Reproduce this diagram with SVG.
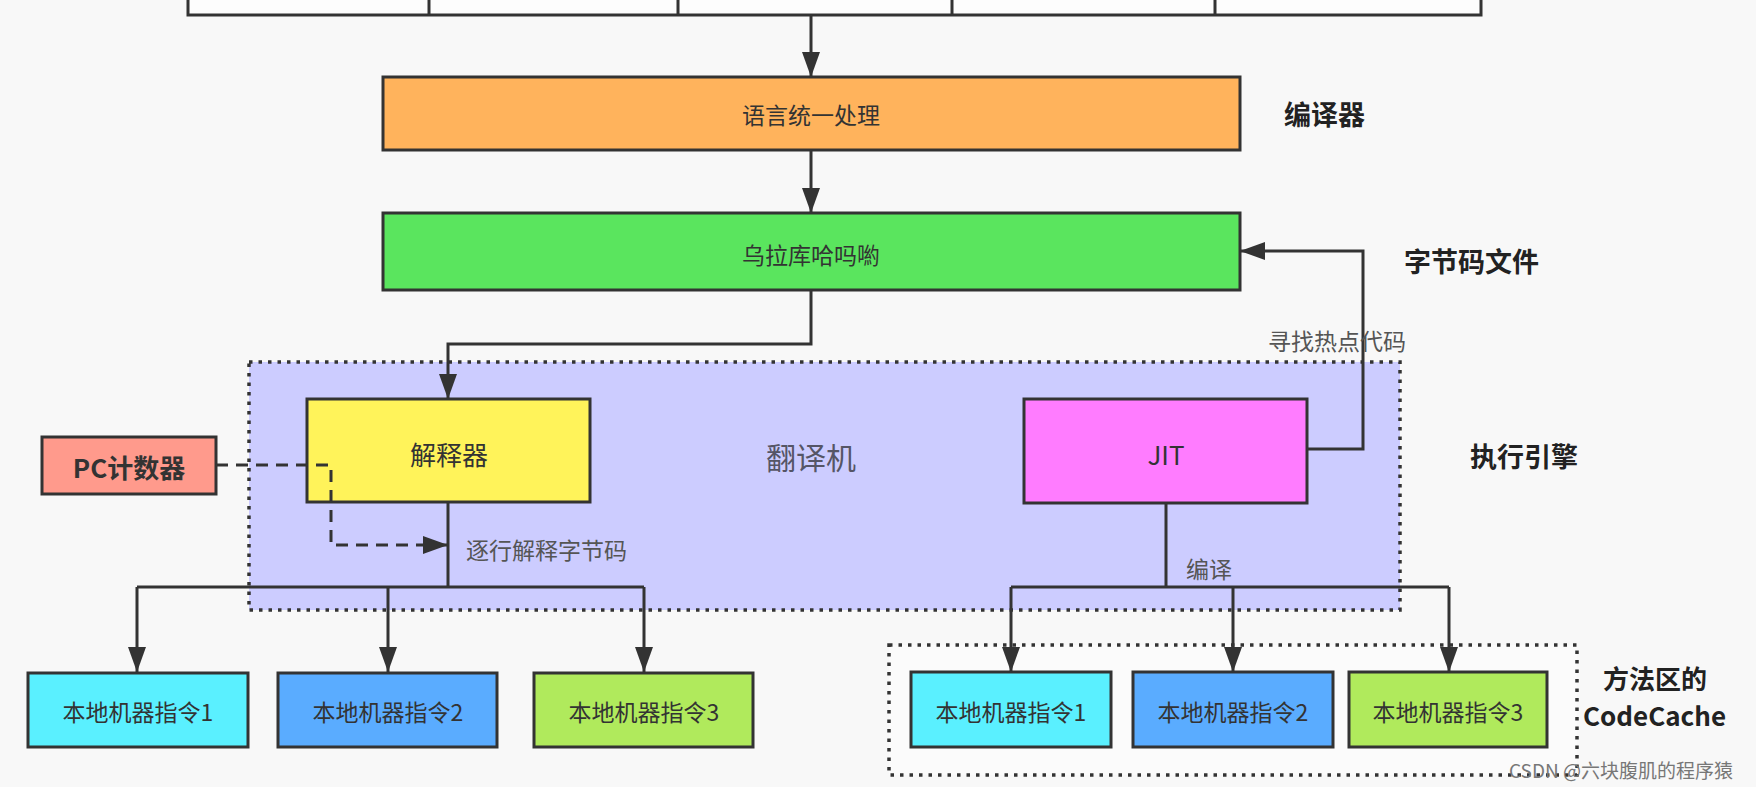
<svg xmlns="http://www.w3.org/2000/svg" width="1756" height="787" viewBox="0 0 1756 787">
<defs>
<marker id="arr" markerUnits="userSpaceOnUse" markerWidth="26" markerHeight="20" refX="25" refY="10" orient="auto">
<path d="M0,1 L25,10 L0,19 z" fill="#333"/>
</marker>
<style>
.box{stroke:#333;stroke-width:3}
.t{font-family:"Noto Sans CJK SC","Noto Sans",sans-serif;fill:#333;text-anchor:middle;dominant-baseline:central}
.lbl{font-family:"Noto Sans CJK SC","Noto Sans",sans-serif;fill:#555;dominant-baseline:central}
.side{font-family:"Noto Sans CJK SC","Noto Sans",sans-serif;fill:#222;font-weight:bold;font-size:27px;dominant-baseline:central}
.ln{fill:none;stroke:#333;stroke-width:3}
.dot{stroke:#333;stroke-width:3.5;stroke-dasharray:3.5 6}
</style>
</defs>
<rect width="1756" height="787" fill="#f8f8f8"/>

<g id="regions">
<rect x="249" y="362" width="1151" height="248" fill="#ccccff" class="dot"/>
<rect x="889" y="645" width="688" height="130" fill="#fbfbfb" class="dot"/>
</g>

<g id="source-row">
<rect x="188" y="-10" width="1293" height="25" fill="#fdfdfd" class="box"/>
<line x1="429" y1="-10" x2="429" y2="15" class="ln"/>
<line x1="678" y1="-10" x2="678" y2="15" class="ln"/>
<line x1="952" y1="-10" x2="952" y2="15" class="ln"/>
<line x1="1215" y1="-10" x2="1215" y2="15" class="ln"/>
</g>

<g id="compiler">
<rect x="383" y="77" width="857" height="73" fill="#ffb35c" class="box"/>
<text x="811" y="114" class="t" font-size="23">语言统一处理</text>
</g>
<g id="bytecode">
<rect x="383" y="213" width="857" height="77" fill="#5ae55e" class="box"/>
<text x="811" y="254" class="t" font-size="23">乌拉库哈吗喲</text>
</g>
<g id="interpreter">
<rect x="307" y="399" width="283" height="103" fill="#fff35a" class="box"/>
<text x="449" y="453" class="t" font-size="26">解释器</text>
</g>
<g id="jit">
<rect x="1024" y="399" width="283" height="104" fill="#ff7cff" class="box"/>
<text x="1166" y="453" class="t" font-size="26">JIT</text>
</g>
<g id="translator-label">
<text x="811" y="456" class="t" font-size="30" style="fill:#555566">翻译机</text>
</g>
<g id="pc">
<rect x="42" y="437" width="174" height="57" fill="#ff9a8c" class="box"/>
<text x="129" y="466" class="t" font-size="26" font-weight="bold">PC计数器</text>
</g>

<g id="native-left-1"><rect x="28" y="673" width="220" height="74" fill="#5af0ff" class="box"/><text x="138" y="711" class="t" font-size="23">本地机器指令1</text></g>
<g id="native-left-2"><rect x="278" y="673" width="219" height="74" fill="#5aacff" class="box"/><text x="388" y="711" class="t" font-size="23">本地机器指令2</text></g>
<g id="native-left-3"><rect x="534" y="673" width="219" height="74" fill="#b0ea5c" class="box"/><text x="644" y="711" class="t" font-size="23">本地机器指令3</text></g>

<g id="native-right-1"><rect x="911" y="672" width="200" height="75" fill="#5af0ff" class="box"/><text x="1011" y="711" class="t" font-size="23">本地机器指令1</text></g>
<g id="native-right-2"><rect x="1133" y="672" width="200" height="75" fill="#5aacff" class="box"/><text x="1233" y="711" class="t" font-size="23">本地机器指令2</text></g>
<g id="native-right-3"><rect x="1349" y="672" width="198" height="75" fill="#b0ea5c" class="box"/><text x="1448" y="711" class="t" font-size="23">本地机器指令3</text></g>

<g id="connectors">
<path d="M811,15 V77" class="ln" marker-end="url(#arr)"/>
<path d="M811,150 V213" class="ln" marker-end="url(#arr)"/>
<path d="M811,290 V344 H448 V399" class="ln" marker-end="url(#arr)"/>
<path d="M1307,449 H1363 V251 H1240" class="ln" marker-end="url(#arr)"/>
<path d="M448,502 V587" class="ln"/>
<path d="M137,587 H644" class="ln"/>
<path d="M137,587 V672" class="ln" marker-end="url(#arr)"/>
<path d="M388,587 V672" class="ln" marker-end="url(#arr)"/>
<path d="M644,587 V672" class="ln" marker-end="url(#arr)"/>
<path d="M1166,503 V587" class="ln"/>
<path d="M1011,587 H1449" class="ln"/>
<path d="M1011,587 V672" class="ln" marker-end="url(#arr)"/>
<path d="M1233,587 V672" class="ln" marker-end="url(#arr)"/>
<path d="M1449,587 V672" class="ln" marker-end="url(#arr)"/>
<path d="M216,465 H331 V545 H448" class="ln" stroke-dasharray="12 8" marker-end="url(#arr)"/>
<text x="466" y="549" class="lbl" font-size="23">逐行解释字节码</text>
<text x="1268" y="340" class="lbl" font-size="23">寻找热点代码</text>
<text x="1186" y="568" class="lbl" font-size="23">编译</text>
</g>

<g id="side-labels">
<text x="1284" y="113" class="side">编译器</text>
<text x="1404" y="260" class="side">字节码文件</text>
<text x="1470" y="455" class="side">执行引擎</text>
<text x="1603" y="677" class="side" style="font-size:26px">方法区的</text>
<text x="1583" y="714" class="side" style="font-size:26px">CodeCache</text>
</g>

<text x="1509" y="769" font-family="Noto Sans CJK SC, Noto Sans, sans-serif" font-size="19" fill="#777" dominant-baseline="central">CSDN @六块腹肌的程序猿</text>
</svg>
